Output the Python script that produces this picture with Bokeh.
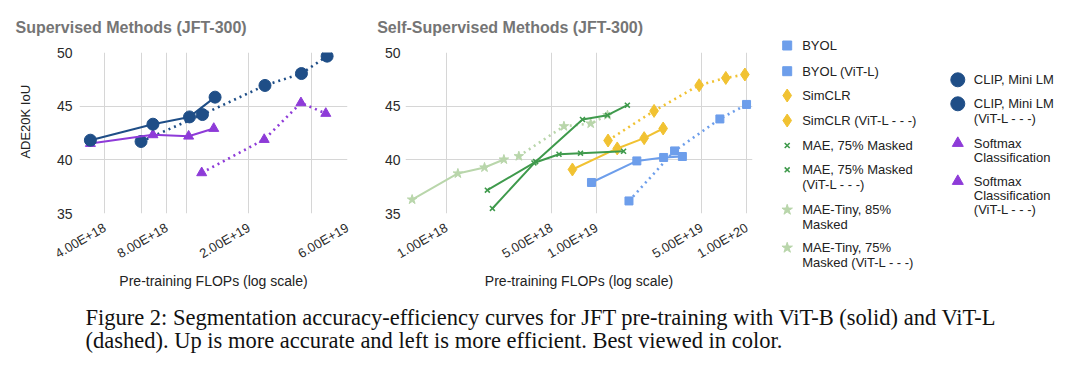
import math
from bokeh.plotting import figure
from bokeh.layouts import column, row
from bokeh.models import Range1d, FixedTicker, CustomJSTickFormatter
from bokeh.embed import file_html
from bokeh.resources import INLINE
from bokeh.core.properties import value

# ---------------- data ----------------
# Supervised (left panel)
clip_x = [3.41e18, 6.85e18, 1.03e19, 1.37e19]
clip_y = [41.83, 43.32, 44.0, 45.84]
clip_l_x = [6.0e18, 1.19e19, 2.39e19, 3.59e19, 4.78e19]
clip_l_y = [41.71, 44.22, 46.93, 48.04, 49.66]
soft_x = [3.41e18, 6.85e18, 1.02e19, 1.35e19]
soft_y = [41.52, 42.33, 42.2, 42.92]
soft_l_x = [1.18e19, 2.37e19, 3.57e19, 4.71e19]
soft_l_y = [38.79, 41.89, 45.31, 44.32]

# Self-supervised (right panel)
byol_x = [9.23e18, 1.85e19, 2.79e19, 3.72e19]
byol_y = [37.89, 39.9, 40.22, 40.31]
byol_l_x = [1.64e19, 3.3e19, 6.61e19, 9.95e19]
byol_l_y = [36.17, 40.83, 43.81, 45.16]
simclr_x = [6.89e18, 1.37e19, 2.07e19, 2.77e19]
simclr_y = [39.1, 41.06, 42.02, 42.92]
simclr_l_x = [1.19e19, 2.41e19, 4.81e19, 7.24e19, 9.7e19]
simclr_l_y = [41.8, 44.56, 46.95, 47.63, 47.95]
mae_x = [1.87e18, 3.82e18, 5.61e18, 7.8e18, 1.51e19]
mae_y = [37.17, 39.71, 40.52, 40.62, 40.8]
mae_l_x = [2.02e18, 3.92e18, 8.04e18, 1.18e19, 1.6e19]
mae_l_y = [35.47, 39.83, 43.76, 44.16, 45.09]
tiny_x = [5.9e17, 1.19e18, 1.79e18, 2.41e18]
tiny_y = [36.3, 38.73, 39.29, 40.03]
tiny_l_x = [3.03e18, 6.05e18, 9.12e18, 1.18e19]
tiny_l_y = [40.34, 43.13, 43.38, 44.16]

# axes
y_ticks = [35, 40, 45, 50]
left_x_ticks = [4e18, 8e18, 2e19, 6e19]
left_x_labels = ["4.00E+18", "8.00E+18", "2.00E+19", "6.00E+19"]
left_x_grid = [4e18, 6e18, 8e18, 1e19, 2e19, 4e19, 6e19]
right_x_ticks = [1e18, 5e18, 1e19, 5e19, 1e20]
right_x_labels = ["1.00E+18", "5.00E+18", "1.00E+19", "5.00E+19", "1.00E+20"]
right_x_grid = [1e18, 5e18, 1e19, 5e19, 1e20]

titles = ["Supervised Methods (JFT-300)", "Self-Supervised Methods (JFT-300)"]
y_label = "ADE20K IoU"
x_label = "Pre-training FLOPs (log scale)"

legend1_labels = ["BYOL", "BYOL (ViT-L)", "SimCLR", "SimCLR (ViT-L - - -)",
                  "MAE, 75% Masked", "MAE, 75% Masked\n(ViT-L - - -)",
                  "MAE-Tiny, 85%\nMasked", "MAE-Tiny, 75%\nMasked (ViT-L - - -)"]
legend2_labels = ["CLIP, Mini LM", "CLIP, Mini LM\n(ViT-L - - -)",
                  "Softmax\nClassification", "Softmax\nClassification\n(ViT-L - - -)"]

caption_lines = [
    "Figure 2: Segmentation accuracy-efficiency curves for JFT pre-training with ViT-B (solid) and ViT-L",
    "(dashed). Up is more accurate and left is more efficient. Best viewed in color.",
]

# ---------------- styles ----------------
FONT = "Liberation Sans"
C_CLIP = "#1f4e87"
C_SOFT = "#8e3bd8"
C_BYOL = "#6d9eeb"
C_SIM = "#f1c232"
C_MAE = "#3f9a4c"
C_TINY = "#b9d6ab"
GRID = "#d6d6d6"

FMT_CODE = """
for (let i = 0; i < vals.length; i++) {
  if (Math.abs(vals[i] - tick) <= 1e-6 * Math.abs(vals[i])) { return labs[i]; }
}
return "";
"""


def blank(width, height):
    """A figure whose data coordinates are its own pixels (y downwards)."""
    f = figure(width=width, height=height, x_range=Range1d(0, width), y_range=Range1d(height, 0),
               output_backend="svg", toolbar_location=None, tools="",
               x_axis_location=None, y_axis_location=None, min_border=0)
    f.grid.visible = False
    f.outline_line_color = None
    return f


def make_panel(width, xr, xticks, xlabels, xgrid, mbl, mbr, ystandoff):
    p = figure(width=width, height=258, x_axis_type="log",
               x_range=Range1d(*xr), y_range=Range1d(35, 50),
               output_backend="svg", toolbar_location=None, tools="",
               min_border_left=mbl, min_border_right=mbr,
               min_border_top=12, min_border_bottom=85)
    p.outline_line_color = None

    p.xaxis.ticker = FixedTicker(ticks=xticks, minor_ticks=[])
    p.xaxis.formatter = CustomJSTickFormatter(args=dict(vals=xticks, labs=xlabels), code=FMT_CODE)
    p.xaxis.major_label_orientation = math.pi / 6
    p.xaxis.major_label_standoff = 13
    p.xaxis.axis_label = x_label
    p.xaxis.axis_label_standoff = 2
    p.xaxis.axis_label_text_font = FONT
    p.xaxis.axis_label_text_font_size = "14px"
    p.xaxis.axis_label_text_font_style = "normal"
    p.xaxis.axis_label_text_color = "#222222"
    p.xaxis.major_label_text_font = FONT
    p.xaxis.major_label_text_font_size = "13px"
    p.xaxis.major_label_text_color = "#2a2a2a"

    p.yaxis.ticker = FixedTicker(ticks=y_ticks, minor_ticks=[])
    p.yaxis.major_label_standoff = ystandoff
    p.yaxis.major_label_text_font = FONT
    p.yaxis.major_label_text_font_size = "14px"
    p.yaxis.major_label_text_color = "#2a2a2a"

    for ax in (p.xaxis, p.yaxis):
        ax.axis_line_color = None
        ax.major_tick_line_color = None
        ax.minor_tick_line_color = None
        ax.major_tick_out = 0
        ax.major_tick_in = 0

    p.xgrid.ticker = FixedTicker(ticks=xgrid, minor_ticks=[])
    p.ygrid.ticker = FixedTicker(ticks=y_ticks, minor_ticks=[])
    p.grid.grid_line_color = GRID
    p.grid.grid_line_width = 1
    return p


def series(p, xs, ys, color, marker, size, dotted, lw_marker=1.0):
    if dotted:
        p.line(xs, ys, line_color=color, line_width=2.6, line_dash="2 4")
    else:
        p.line(xs, ys, line_color=color, line_width=2)
    p.scatter(xs, ys, marker=marker, size=size, fill_color=color, line_color=color,
              line_width=lw_marker)


# ---------------- title strip ----------------
strip = blank(765, 40)
strip.text([15, 376.7], [26.5, 26.5], text=titles, text_font=value(FONT),
           text_font_size="16px", text_font_style="bold", text_color="#757575",
           text_baseline="middle", text_align="left")

# ---------------- y label ----------------
ylab = blank(40, 258)
ylab.text([24.5], [111], text=[y_label], angle=math.pi / 2, text_font=value(FONT),
          text_font_size="13px", text_color="#222222", text_align="center",
          text_baseline="middle")

# ---------------- left panel ----------------
pl = make_panel(330, (3.02e18, 6.0e19), left_x_ticks, left_x_labels, left_x_grid, 39, 23, 7)
series(pl, clip_l_x, clip_l_y, C_CLIP, "circle", 12, True)
series(pl, soft_l_x, soft_l_y, C_SOFT, "triangle", 10, True)
series(pl, soft_x, soft_y, C_SOFT, "triangle", 10, False)
series(pl, clip_x, clip_y, C_CLIP, "circle", 12, False)

# ---------------- right panel ----------------
pr = make_panel(395, (5.33e17, 1.09e20), right_x_ticks, right_x_labels, right_x_grid, 35, 13, 5)
series(pr, tiny_x, tiny_y, C_TINY, "star", 10, False)
series(pr, tiny_l_x, tiny_l_y, C_TINY, "star", 10, True)
series(pr, byol_l_x, byol_l_y, C_BYOL, "square", 8, True)
series(pr, byol_x, byol_y, C_BYOL, "square", 8, False)
series(pr, simclr_l_x, simclr_l_y, C_SIM, "diamond", 13, True)
series(pr, simclr_x, simclr_y, C_SIM, "diamond", 13, False)
series(pr, mae_l_x, mae_l_y, C_MAE, "x", 7, False, 1.6)
series(pr, mae_x, mae_y, C_MAE, "x", 7, False, 1.6)

# ---------------- legend ----------------
leg = blank(315, 298)
LINE_STEP = 14.3
col1_rows = [45, 70.7, 95, 120, 145, 169.3, 209.3, 247.3]
col1_style = [(C_BYOL, "square", 9), (C_BYOL, "square", 9), (C_SIM, "diamond", 13),
              (C_SIM, "diamond", 13), (C_MAE, "x", 7), (C_MAE, "x", 7),
              (C_TINY, "star", 11), (C_TINY, "star", 11)]
col2_rows = [79.3, 103.3, 142.7, 180.7]
col2_style = [(C_CLIP, "circle", 14), (C_CLIP, "circle", 14),
              (C_SOFT, "triangle", 11), (C_SOFT, "triangle", 11)]

for mx, tx, rows, styles, labels in ((21.7, 36.7, col1_rows, col1_style, legend1_labels),
                                      (192.3, 208.3, col2_rows, col2_style, legend2_labels)):
    lx, ly, lt = [], [], []
    for yy, (c, m, s), lab in zip(rows, styles, labels):
        leg.scatter([mx], [yy], marker=m, size=s, fill_color=c, line_color=c,
                    line_width=1.6 if m == "x" else 1)
        for i, part in enumerate(lab.split("\n")):
            lx.append(tx)
            ly.append(yy + i * LINE_STEP)
            lt.append(part)
    leg.text(lx, ly, text=lt, text_font=value(FONT), text_font_size="13px",
             text_color="#222222", text_baseline="middle", text_align="left")

# ---------------- caption ----------------
cap = blank(1080, 70)
cap.text([85, 85], [19, 41.5], text=caption_lines, text_font=value("Liberation Serif"),
         text_font_size="22.5px", text_color="#111111", text_baseline="middle",
         text_align="left")

top = row(column(strip, row(ylab, pl, pr, spacing=0), spacing=0), leg, spacing=0)
layout = column(top, cap, spacing=0)
open("out.html", "w").write(file_html(layout, INLINE))
